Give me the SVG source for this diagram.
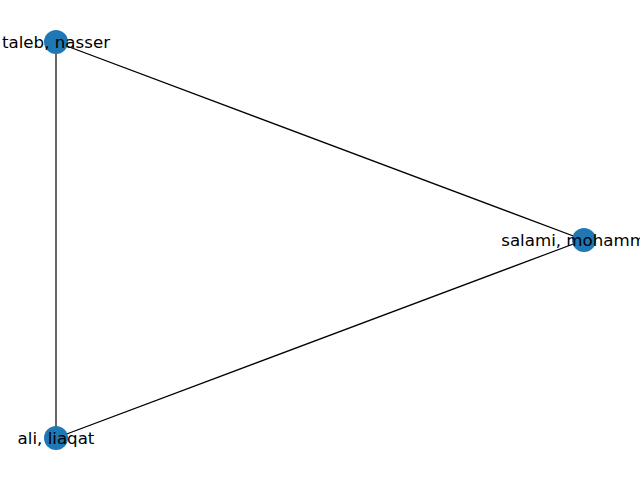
<svg xmlns="http://www.w3.org/2000/svg" width="640" height="480" viewBox="0 0 640 480">
<style>
.e{stroke:#000;stroke-width:1.2;fill:none}
.n{fill:#1f77b4}
.t{font-family:"DejaVu Sans",sans-serif;font-size:16.67px;fill:#000;text-anchor:middle}
</style>
<rect width="640" height="480" fill="#fff"/>
<g id="edges">
<line class="e" x1="56" y1="42" x2="584" y2="240"/>
<line class="e" x1="56" y1="42" x2="56" y2="438"/>
<line class="e" x1="56" y1="438" x2="584" y2="240"/>
</g>
<g id="node-taleb">
<circle class="n" cx="56" cy="42" r="12"/>
<text class="t" x="56" y="48">taleb, nasser</text>
</g>
<g id="node-salami">
<circle class="n" cx="584" cy="240" r="12"/>
<text class="t" x="584" y="246">salami, mohammad</text>
</g>
<g id="node-ali">
<circle class="n" cx="56" cy="438" r="12"/>
<text class="t" x="56" y="444">ali, liaqat</text>
</g>
</svg>
